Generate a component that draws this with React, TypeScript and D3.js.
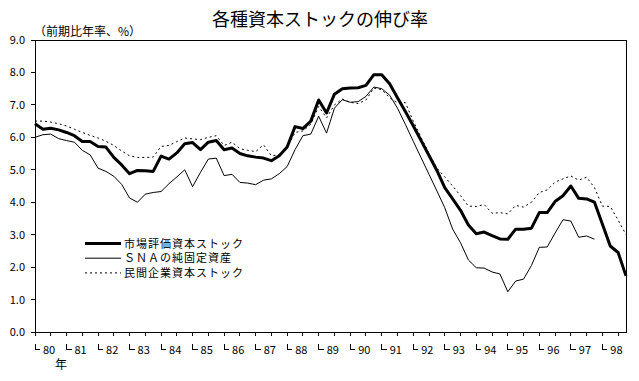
import React from "react";
import * as d3 from "d3";

const years = ["80","81","82","83","84","85","86","87","88","89","90","91","92","93","94","95","96","97","98"];
const yTicks = [0,1,2,3,4,5,6,7,8,9];

// 市場評価資本ストック (quarterly, 80Q1 - 98Q4)
const marketStock = [
  6.42,6.25,6.28,6.23,6.15,6.05,5.87,5.87,5.72,5.70,5.38,5.15,4.88,4.98,4.97,4.95,
  5.42,5.33,5.52,5.80,5.84,5.62,5.85,5.90,5.62,5.67,5.50,5.43,5.39,5.36,5.28,5.43,
  5.70,6.33,6.27,6.50,7.15,6.75,7.33,7.50,7.52,7.53,7.60,7.93,7.93,7.65,7.22,6.80,
  6.36,5.90,5.44,4.98,4.45,4.10,3.75,3.30,3.03,3.08,2.97,2.87,2.86,3.17,3.17,3.20,
  3.68,3.68,4.02,4.20,4.50,4.12,4.10,4.00,3.33,2.65,2.45,1.73
];
// ＳＮＡの純固定資産 (80Q1 - 97Q4)
const snaNetFixed = [
  6.00,6.08,6.10,5.96,5.90,5.85,5.60,5.46,5.05,4.95,4.80,4.55,4.13,4.00,4.25,4.30,
  4.33,4.57,4.78,5.00,4.48,4.92,5.33,5.36,4.82,4.86,4.61,4.59,4.54,4.68,4.72,4.88,
  5.10,5.62,6.05,6.10,6.65,6.13,6.90,7.16,7.08,7.10,7.26,7.55,7.50,7.30,6.90,6.40,
  5.88,5.37,4.86,4.35,3.83,3.17,2.75,2.22,1.98,1.97,1.85,1.79,1.24,1.57,1.63,2.05,
  2.61,2.62,3.05,3.46,3.42,2.92,2.96,2.86
];
// 民間企業資本ストック (80Q1 - 98Q4)
const privateStock = [
  6.50,6.50,6.47,6.42,6.35,6.25,6.15,6.06,5.98,5.88,5.75,5.58,5.43,5.38,5.38,5.39,
  5.72,5.75,5.87,5.98,5.95,5.93,6.00,6.05,5.75,5.85,5.65,5.60,5.56,5.77,5.43,5.46,
  5.70,6.15,6.20,6.40,6.95,6.60,7.00,7.18,7.08,7.04,7.15,7.52,7.47,7.22,7.06,7.07,
  6.50,6.00,5.50,5.05,4.78,4.50,4.20,3.88,3.87,3.93,3.66,3.68,3.64,3.90,3.85,4.00,
  4.30,4.38,4.62,4.72,4.81,4.68,4.77,4.45,3.88,3.87,3.45,3.00
];

const legendLabels = ["市場評価資本ストック", "ＳＮＡの純固定資産", "民間企業資本ストック"];

const W = 639, H = 381;
const L = 35, R = 626, T = 40, B = 332;
const FONT = "'Noto Sans CJK JP', sans-serif";

export default function App() {
  const x = d3.scaleLinear().domain([0, 75]).range([L, R]);
  const y = d3.scaleLinear().domain([0, 9]).range([B, T]);
  const line = d3.line<number>().x((_, i) => x(i)).y(d => y(d));
  const halfYearTicks = d3.range(0, 75, 2);

  const series = [
    { data: marketStock, width: 3, dash: undefined as string | undefined },
    { data: snaNetFixed, width: 1, dash: undefined as string | undefined },
    { data: privateStock, width: 1, dash: "2,3" },
  ];

  return (
    <svg width={W} height={H} style={{ position: "absolute", left: 0, top: 0, background: "#fff" }} fontFamily={FONT}>
      <rect width={W} height={H} fill="#fff" />
      <text x={320} y={26} textAnchor="middle" fontSize={18} fill="#000">各種資本ストックの伸び率</text>
      <text x={34} y={36} fontSize={12} fill="#000">（前期比年率、%）</text>

      {/* frame */}
      <path d={`M${L},${B}V${T}H${R}V${B}H${L}`} fill="none" stroke="#000" strokeWidth={1} shapeRendering="crispEdges" />

      {/* y ticks */}
      {yTicks.map(t => (
        <g key={t}>
          <line x1={L - 4} x2={L} y1={y(t)} y2={y(t)} stroke="#000" shapeRendering="crispEdges" />
          <text x={25} y={y(t) + 4} textAnchor="end" fontSize={11} fill="#000">{t.toFixed(1)}</text>
        </g>
      ))}

      {/* x ticks */}
      {halfYearTicks.map(i => (
        <line key={i} x1={x(i)} x2={x(i)} y1={B} y2={B + 4} stroke="#000" shapeRendering="crispEdges" />
      ))}
      {years.map((yr, k) => {
        const px = x(k * 4);
        return (
          <g key={yr}>
            <path d={`M${px},${344}V${349}H${px + 5}`} fill="none" stroke="#000" shapeRendering="crispEdges" />
            <text x={px + 8} y={354} fontSize={11} fill="#000">{yr}</text>
          </g>
        );
      })}
      <text x={61} y={369} textAnchor="middle" fontSize={12} fill="#000">年</text>

      {/* series */}
      {series.map((s, k) => (
        <path key={k} d={line(s.data) || ""} fill="none" stroke="#000" strokeWidth={s.width}
          strokeDasharray={s.dash} strokeLinejoin="round" />
      ))}

      {/* legend */}
      {legendLabels.map((lab, k) => {
        const ly = 243.5 + k * 14.7;
        const s = series[k];
        return (
          <g key={lab}>
            <line x1={85} x2={121} y1={ly} y2={ly} stroke="#000" strokeWidth={s.width} strokeDasharray={s.dash} />
            <text x={124} y={ly + 4} fontSize={11} letterSpacing={1} fill="#000">{lab}</text>
          </g>
        );
      })}
    </svg>
  );
}
